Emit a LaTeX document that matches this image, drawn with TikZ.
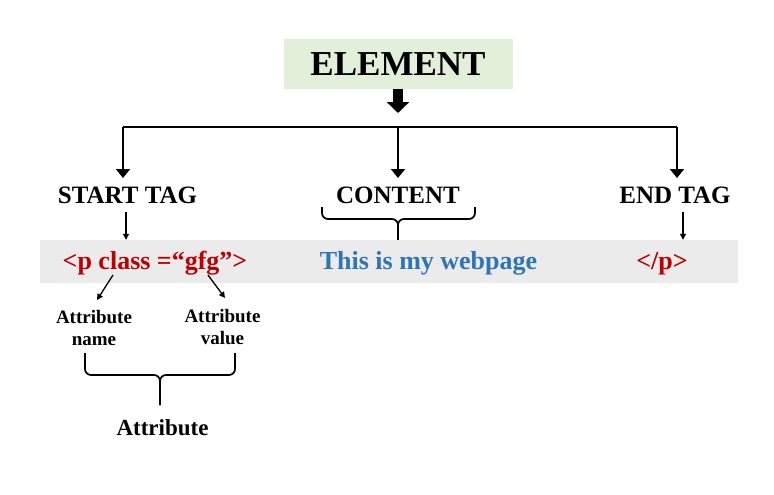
\documentclass[tikz,border=0pt]{standalone}
\usepackage{fontspec}
\setmainfont{Liberation Serif}
\usetikzlibrary{arrows.meta}
\definecolor{boxgreen}{RGB}{226,239,217}
\definecolor{bandgray}{RGB}{235,235,235}
\definecolor{tagred}{RGB}{192,0,0}
\definecolor{textblue}{RGB}{46,117,182}
\begin{document}
\begin{tikzpicture}[x=1pt,y=-1pt,
  lbl/.style={font=\bfseries\fontsize{25}{30}\selectfont, inner sep=0pt},
  bandtxt/.style={font=\bfseries\fontsize{26}{30}\selectfont, inner sep=0pt, anchor=base},
  attr/.style={font=\bfseries\fontsize{19}{22}\selectfont, inner sep=0pt, align=center},
  mainline/.style={line width=2pt},
  mainarrow/.style={line width=2pt, -{Triangle[width=14pt,length=9pt]}},
  smallarrow/.style={line width=1.3pt, -{Triangle[width=6pt,length=6pt]}},
  bracestyle/.style={line width=1.7pt, rounded corners=6pt}]
\useasboundingbox (0,0) rectangle (774,495);

% element box
\node[fill=boxgreen, minimum width=229pt, minimum height=50pt, inner sep=0pt,
      font=\bfseries\fontsize{35}{40}\selectfont] (elem) at (398,64) {ELEMENT};
\coordinate (hub) at (398,127);
\coordinate (blockend) at (398,113);
\draw[line width=10pt, -{Triangle[width=22pt,length=11pt]}] (elem.south) -- (blockend);

% band
\node[fill=bandgray, minimum width=698pt, minimum height=43pt, inner sep=0pt] (band) at (389,261.5) {};

% labels
\node[lbl] (start) at (127.5,195) {START TAG};
\node[lbl] (content) at (398,195) {CONTENT};
\node[lbl] (endtag) at (675,195) {END TAG};

% tree connectors
\coordinate (cL) at (123,127);
\coordinate (cR) at (677,127);
\coordinate (tipy) at (0,178);
\draw[mainline] (cL) -- (cR);
\draw[mainarrow] (cL) -- (cL |- tipy);
\draw[mainarrow] (hub) -- (hub |- tipy);
\draw[mainarrow] (cR) -- (cR |- tipy);

% band texts
\node[bandtxt, text=tagred] (ptag) at (155,269) {<p class =“gfg”>};
\node[bandtxt, text=textblue] (ctext) at (428.5,269) {This is my webpage};
\node[bandtxt, text=tagred] (etag) at (662,269) {</p>};

% small arrows to band
\coordinate (sa) at (126,212);
\coordinate (ea) at (683,212);
\draw[smallarrow] (sa) -- (sa |- band.north);
\draw[smallarrow] (ea) -- (ea |- band.north);

% content brace
\coordinate (cb) at (398,219);
\draw[bracestyle] (322,207) |- (cb) -- (cb |- band.north);
\draw[bracestyle] (475,207) |- (cb) -- (cb |- band.north);

% attribute nodes
\node[attr] (aname) at (94,327.5) {Attribute\\name};
\node[attr] (avalue) at (222.5,327.5) {Attribute\\value};
\coordinate (n1) at (113,275);
\coordinate (v1) at (208,275);
\coordinate (n2) at (97,300);
\coordinate (v2) at (225,298);
\draw[smallarrow] (n1) -- (n2);
\draw[smallarrow] (v1) -- (v2);

% attribute brace
\coordinate (ab) at (160,375);
\coordinate (abot) at (160,405);
\draw[bracestyle] (85,353) |- (ab) -- (abot);
\draw[bracestyle] (235,353) |- (ab) -- (abot);
\node[font=\bfseries\fontsize{23}{28}\selectfont, inner sep=0pt, anchor=base] (attrib) at (162.5,435) {Attribute};
\end{tikzpicture}
\end{document}
